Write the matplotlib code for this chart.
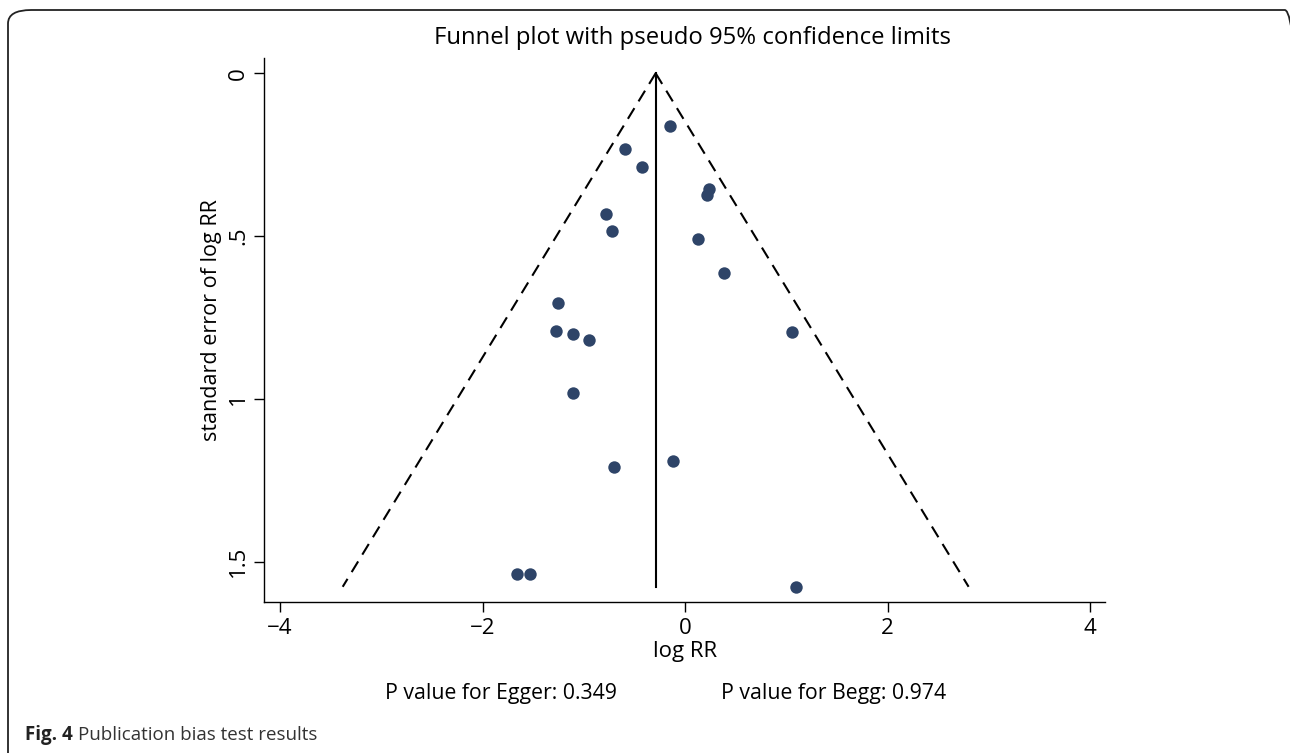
import numpy as np
import matplotlib.pyplot as plt
from matplotlib.patches import FancyBboxPatch

plt.rcParams['font.family'] = ['Open Sans', 'DejaVu Sans']

# study estimates
log_rr = [-0.148, -0.59, -0.42, 0.24, 0.22, -0.777, -0.724, 0.125, 0.385, -1.254,
          -1.27, 1.054, -1.103, -0.952, -1.103, -0.115, -0.70, -1.656, -1.53, 1.096]
se_log_rr = [0.162, 0.233, 0.288, 0.354, 0.374, 0.433, 0.483, 0.509, 0.613, 0.705,
             0.793, 0.795, 0.800, 0.818, 0.983, 1.192, 1.210, 1.537, 1.537, 1.577]
pooled = -0.29
x_ticks = [-4, -2, 0, 2, 4]
y_ticks = [0, 0.5, 1, 1.5]
y_tick_labels = ['0', '.5', '1', '1.5']
p_egger = 0.349
p_begg = 0.974

fig = plt.figure(figsize=(12.9, 7.53), dpi=100)

# rounded frame around the whole figure
frame = FancyBboxPatch((8 / 1290, -20 / 753), 1300 / 1290, 763 / 753,
                       boxstyle='round,pad=0,rounding_size=0.018',
                       transform=fig.transFigure, fill=False, lw=1.3,
                       edgecolor='#222222', clip_on=False)
fig.patches.append(frame)

ax = fig.add_axes([0.2049, 0.2001, 0.6517, 0.7225])

max_se = max(se_log_rr)
se_line = np.array([0, max_se])
ax.plot([pooled, pooled], se_line, color='black', lw=1.5)
ax.plot(pooled - 1.96 * se_line, se_line, color='black', lw=1.5, dashes=(6, 3.8))
ax.plot(pooled + 1.96 * se_line, se_line, color='black', lw=1.5, dashes=(6, 3.8))
ax.scatter(log_rr, se_log_rr, s=80, color='#2e4468', zorder=3, linewidths=0)

ax.set_xlim(-4.155, 4.148)
ax.set_ylim(1.6247, -0.046)
ax.set_xticks(x_ticks)
ax.set_xticklabels([f'{t}'.replace('-', '\u2212') for t in x_ticks])
ax.set_yticks(y_ticks)
ax.set_yticklabels(y_tick_labels, rotation=90, va='center')
ax.tick_params(direction='out', length=7, width=1, labelsize=16, pad=4)
for side in ['top', 'right']:
    ax.spines[side].set_visible(False)
for side in ['left', 'bottom']:
    ax.spines[side].set_linewidth(1)

ax.set_xlabel('log RR', fontsize=16, labelpad=2)
ax.set_ylabel('standard error of log RR', fontsize=15.5)
ax.yaxis.set_label_coords(-0.05, 0.518)

fig.text(693 / 1290, 1 - 38 / 753, 'Funnel plot with pseudo 95% confidence limits',
         ha='center', va='center', fontsize=17.2)
fig.text(501 / 1290, 1 - 694 / 753, f'P value for Egger: {p_egger}',
         ha='center', va='center', fontsize=15.3)
fig.text(834 / 1290, 1 - 694 / 753, f'P value for Begg: {p_begg}',
         ha='center', va='center', fontsize=15.3)

# caption: bold label then plain text right after it
cap = fig.text(25 / 1290, 1 - 735 / 753, 'Fig. 4', ha='left', va='center',
               fontsize=13.5, fontweight='bold', color='#222222')
r = fig.canvas.get_renderer()
bb = cap.get_window_extent(renderer=r)
fig.text((bb.x1 + 5) / 1290, 1 - 735 / 753, 'Publication bias test results',
         ha='left', va='center', fontsize=13.5, color='#333333')

fig.savefig('out.png', dpi=100)
